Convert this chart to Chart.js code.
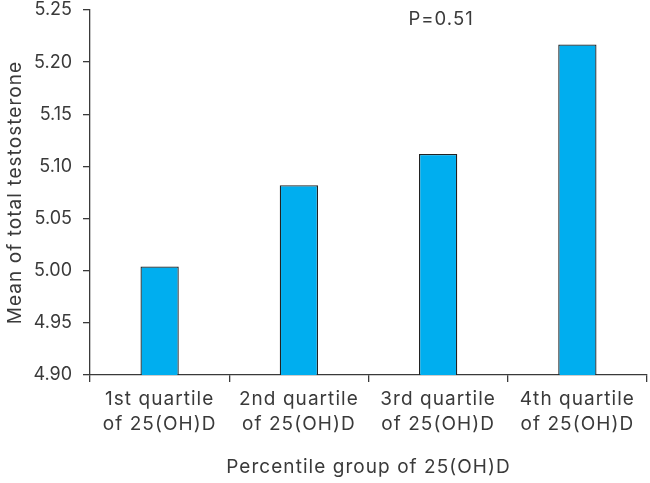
<!DOCTYPE html>
<html>
<head>
<meta charset="utf-8">
<script src="https://cdn.jsdelivr.net/npm/chart.js@4"></script>
<style>
  html, body { margin: 0; padding: 0; background: #fff; }
  #wrap { width: 650px; height: 483px; }
</style>
</head>
<body>
<div id="wrap"><canvas id="chart" width="650" height="483"></canvas></div>
<script>
const categories = [
    ['1st quartile', 'of 25(OH)D'],
    ['2nd quartile', 'of 25(OH)D'],
    ['3rd quartile', 'of 25(OH)D'],
    ['4th quartile', 'of 25(OH)D']
];
const meanTestosterone = [5.004, 5.082, 5.112, 5.217];
const yMin = 4.90, yMax = 5.25, yStep = 0.05;
const pValueLabel = 'P=0.51';

const textColor = '#3a3a3a';
const axisColor = '#3a3a3a';
const fontFamily = 'Inter, "Liberation Sans", sans-serif';
const wideSpacing = '1.05px';

// the figure uses a loosely spaced font: widen letters for the texts
const spacing = {
    id: 'spacing',
    beforeDraw(chart) {
        chart.ctx.letterSpacing = wideSpacing;
    }
};

// draws the P value note above the 3rd group
const pLabel = {
    id: 'pLabel',
    afterDraw(chart) {
        const c = chart.ctx;
        const x = chart.scales.x.getPixelForValue(2);
        c.save();
        c.letterSpacing = wideSpacing;
        c.font = '18.5px ' + fontFamily;
        c.fillStyle = textColor;
        c.textAlign = 'center';
        c.textBaseline = 'middle';
        c.fillText(pValueLabel, x + 3, chart.chartArea.top + 9);
        c.restore();
    }
};

const ctx = document.getElementById('chart');
new Chart(ctx, {
    type: 'bar',
    data: {
        labels: categories,
        datasets: [{
            data: meanTestosterone,
            backgroundColor: '#00aeef',
            borderColor: '#222',
            borderWidth: 1.3,
            categoryPercentage: 1,
            barPercentage: 0.275
        }]
    },
    options: {
        responsive: false,
        animation: false,
        layout: { padding: { top: 0, right: 3, left: 0, bottom: 0 } },
        plugins: {
            legend: { display: false },
            tooltip: { enabled: false }
        },
        scales: {
            x: {
                grid: { offset: true, drawOnChartArea: false, tickLength: 7, color: axisColor, lineWidth: 1.3 },
                border: { color: axisColor, width: 1.3 },
                ticks: { color: textColor, font: { family: fontFamily, size: 19, lineHeight: 1.32 }, padding: 5, maxRotation: 0, autoSkip: false },
                title: { display: true, text: 'Percentile group of 25(OH)D', color: textColor, font: { family: fontFamily, size: 19 } },
                afterFit(scale) { scale.height = 108; }
            },
            y: {
                min: yMin,
                max: yMax,
                grid: { drawOnChartArea: false, tickLength: 7, color: axisColor, lineWidth: 1.3 },
                border: { color: axisColor, width: 1.3 },
                ticks: {
                    stepSize: yStep,
                    color: textColor,
                    padding: 11,
                    font: { family: fontFamily, size: 18 },
                    callback: v => v.toFixed(2)
                },
                title: { display: true, text: 'Mean of total testosterone', color: textColor, font: { family: fontFamily, size: 19 }, padding: { top: 4, bottom: 4 } },
                afterFit(scale) {
                    scale.width = 90;
                    scale.paddingTop = 10;
                    // tick numbers are set tight, unlike the other texts
                    scale.drawLabels = function (area) {
                        this.ctx.letterSpacing = '0px';
                        Chart.Scale.prototype.drawLabels.call(this, area);
                        this.ctx.letterSpacing = wideSpacing;
                    };
                }
            }
        }
    },
    plugins: [spacing, pLabel]
});
</script>
</body>
</html>
